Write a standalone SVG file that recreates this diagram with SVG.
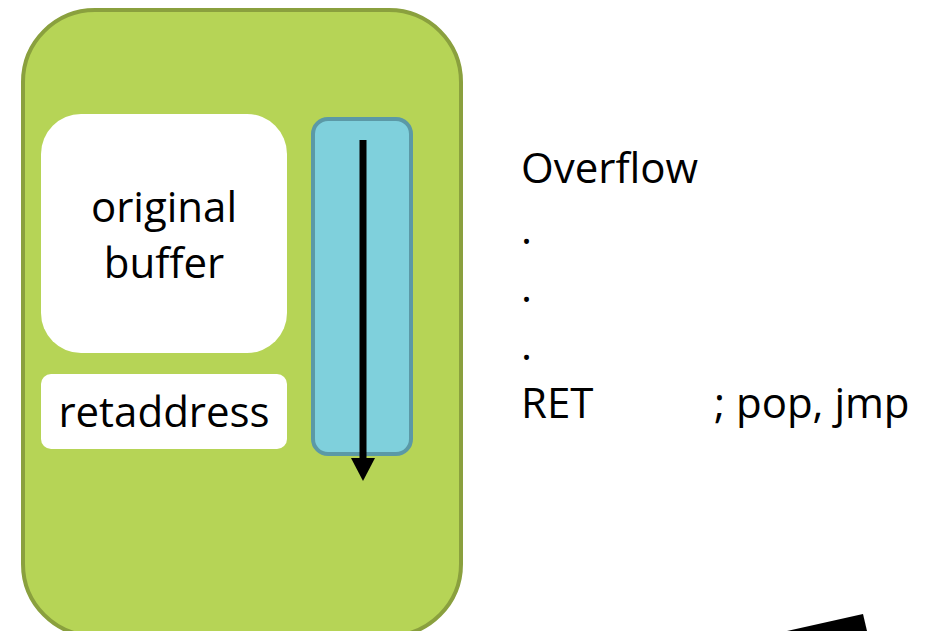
<svg xmlns="http://www.w3.org/2000/svg" width="927" height="631" viewBox="0 0 927 631">
<style>
.t{font-family:"Open Sans","Liberation Sans",Arial,sans-serif;font-size:42px;fill:#000}
.w{fill:#ffffff}
</style>
<rect width="927" height="631" fill="#ffffff"/>
<g id="stack">
<rect x="23" y="10" width="438" height="626" rx="72" ry="72" fill="#b6d456" stroke="#8aa03e" stroke-width="4"/>
</g>
<g id="buffer">
<rect x="41" y="114" width="246" height="239" rx="40" ry="40" class="w"/>
<text class="t" x="164" y="222" text-anchor="middle">original</text>
<text class="t" x="164" y="278" text-anchor="middle">buffer</text>
</g>
<g id="retaddress">
<rect x="41" y="374" width="246" height="75" rx="10" ry="10" class="w"/>
<text class="t" x="164" y="427" text-anchor="middle">retaddress</text>
</g>
<g id="overflow-bar">
<rect x="313" y="119" width="98" height="335" rx="15" ry="15" fill="#7fd0dc" stroke="#5b99a6" stroke-width="4"/>
</g>
<g id="connectors">
<line x1="363" y1="140" x2="363" y2="462" stroke="#000" stroke-width="7"/>
<path d="M351,458 L375,458 L363,481 z" fill="#000"/>
<polygon points="787,631 863,614 867,631" fill="#000"/>
</g>
<g id="code">
<text class="t" x="521" y="183">Overflow</text>
<text class="t" x="521" y="244">.</text>
<text class="t" x="521" y="302">.</text>
<text class="t" x="521" y="360">.</text>
<text class="t" x="521" y="418">RET</text>
<text class="t" x="714" y="418">; pop, jmp</text>
</g>
</svg>
